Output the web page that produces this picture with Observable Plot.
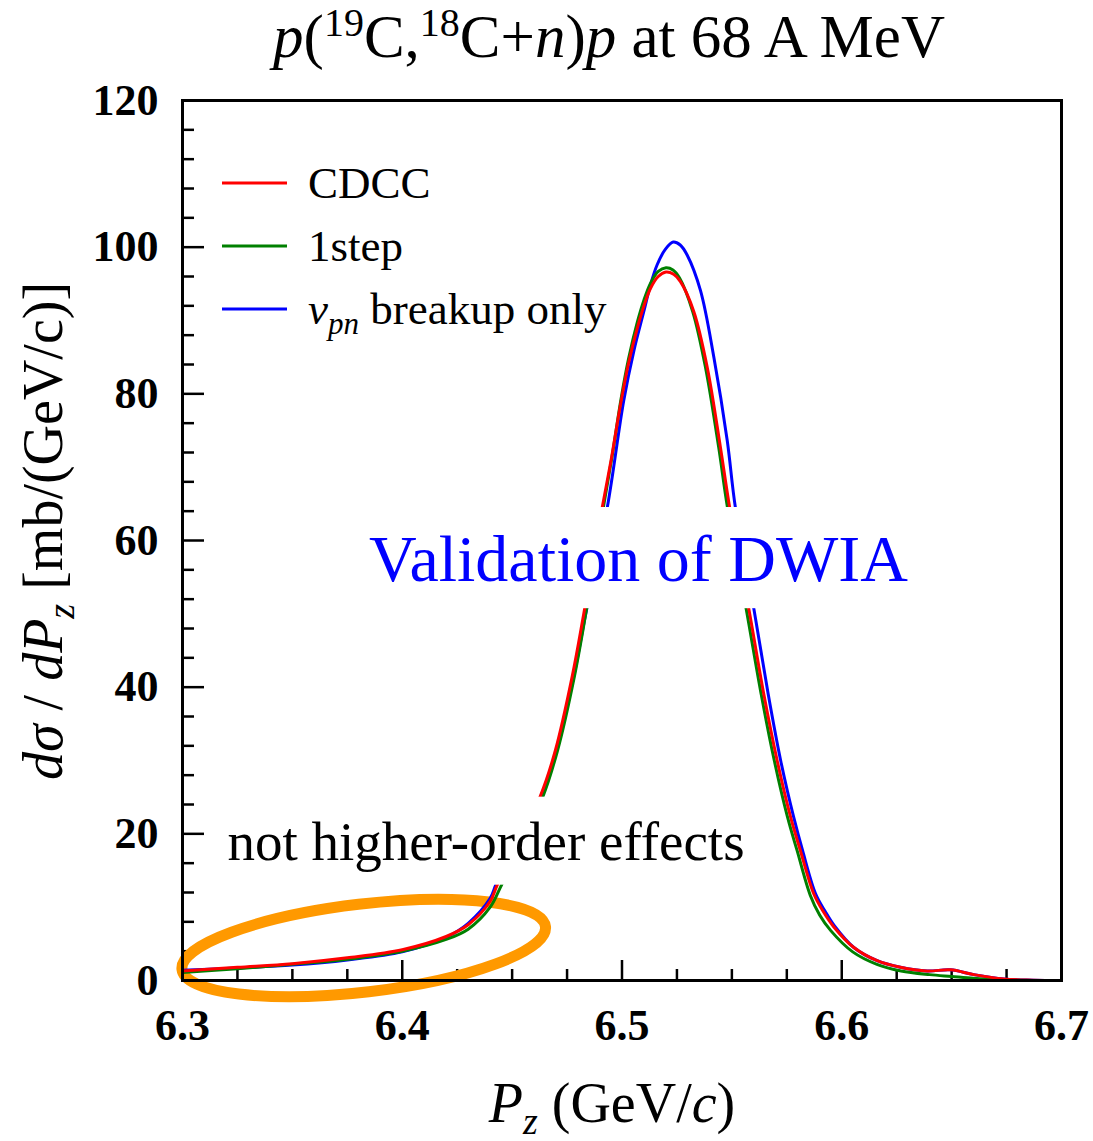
<!DOCTYPE html>
<html><head><meta charset="utf-8">
<script src="https://cdn.jsdelivr.net/npm/d3@7"></script>
<script src="https://cdn.jsdelivr.net/npm/@observablehq/plot@0.6"></script>
<style>body{margin:0;background:#fff} svg{display:block}</style>
</head><body><div id="chart"></div>
<script>
// ---------- data ----------
const seriesNames = ["CDCC", "1step", "vpn breakup only"];
const seriesColors = ["#ff0000", "#008000", "#0000ff"];

const pzCDCC = [6.300,6.325,6.350,6.375,6.400,6.420,6.430,6.440,6.4432,6.453,6.4629,6.4697,6.4773,6.4826,6.491,6.495,6.4993,6.503,6.507,6.510,6.513,6.5165,6.520,6.5235,6.5266,6.5327,6.5388,6.5448,6.549,6.5577,6.5645,6.5706,6.5767,6.5812,6.5873,6.5918,6.5964,6.6055,6.6161,6.6267,6.6389,6.6495,6.6601,6.6737,6.6873,6.700];
const dsCDCC = [1.3,1.8,2.3,3.1,4.2,6.0,7.6,10.8,13.0,19.0,25.2,31.4,41.4,50.0,64.5,70.9,78.5,84.2,89.0,92.0,94.4,96.0,96.6,96.3,95.3,91.2,83.6,72.7,64.5,50.7,39.1,30.0,22.3,17.7,11.8,9.3,7.3,4.5,2.7,1.8,1.3,1.45,0.8,0.2,0.05,0.0];

const pz1step = [6.300,6.325,6.350,6.375,6.400,6.420,6.430,6.440,6.4445,6.454,6.4639,6.4707,6.4783,6.4835,6.4915,6.4955,6.4995,6.503,6.507,6.510,6.513,6.5165,6.520,6.5232,6.5262,6.5322,6.538,6.544,6.548,6.5565,6.5633,6.5693,6.5753,6.5797,6.5857,6.590,6.595,6.605,6.616,6.627,6.640,6.650,6.660,6.675,6.690,6.700];
const ds1step = [1.1,1.6,2.2,2.9,4.0,5.6,7.0,10.0,12.6,18.8,25.0,31.4,41.4,50.0,64.5,71.5,79.2,84.8,89.8,92.8,95.1,96.7,97.2,96.9,95.8,91.2,83.6,72.7,64.5,50.7,39.1,30.0,22.3,17.7,11.6,8.9,6.8,3.9,2.2,1.3,0.8,0.55,0.3,0.05,0.0,0.0];

const pzVpn = [6.300,6.325,6.350,6.375,6.400,6.420,6.430,6.440,6.4428,6.453,6.4632,6.4702,6.478,6.4835,6.4933,6.5008,6.5055,6.5099,6.5130,6.5160,6.5197,6.5233,6.5265,6.5297,6.5357,6.5418,6.5479,6.5516,6.5600,6.5665,6.5722,6.5781,6.5822,6.588,6.5925,6.5968,6.6055,6.6161,6.6267,6.6389,6.6495,6.6601,6.6737,6.6873,6.700];
const dsVpn = [1.4,1.7,2.1,2.8,3.9,5.9,7.8,11.2,13.2,19.2,25.2,31.4,41.4,50.0,64.5,79.1,86.0,91.2,94.9,97.6,99.7,100.7,100.3,98.9,94.1,85.0,73.6,64.5,50.7,39.1,30.0,22.3,17.7,11.9,9.4,7.4,4.5,2.7,1.8,1.3,1.45,0.8,0.2,0.05,0.0];

const xTicks = [6.3, 6.4, 6.5, 6.6, 6.7];
const xMinorTicks = [6.325,6.35,6.375,6.425,6.45,6.475,6.525,6.55,6.575,6.625,6.65,6.675];
const yTicks = [0, 20, 40, 60, 80, 100, 120];
const yMinorTicks = [4,8,12,16,24,28,32,36,44,48,52,56,64,68,72,76,84,88,92,96,104,108,112,116];

// annotations (data coordinates)
const noteTexts = ["Validation of DWIA", "not higher-order effects"];
const noteX = [6.5075, 6.4381];
const noteY = [57.4, 18.8];
const boxX1 = [6.381, 6.3164], boxX2 = [6.6336, 6.5608];
const boxY1 = [50.7, 13.0], boxY2 = [64.5, 25.0];
const ellipseCenter = [6.3827, 4.36];

// ---------- build ----------
const mk = (xs, ys, s) => xs.map((x, i) => ({pz: x, v: ys[i], series: s}));
const dataCDCC = mk(pzCDCC, dsCDCC, seriesNames[0]);
const data1step = mk(pz1step, ds1step, seriesNames[1]);
const dataVpn = mk(pzVpn, dsVpn, seriesNames[2]);
const notes = noteTexts.map((t, i) => ({t, x: noteX[i], y: noteY[i]}));
const boxes = boxX1.map((d, i) => ({x1: boxX1[i], x2: boxX2[i], y1: boxY1[i], y2: boxY2[i]}));

const W = 1093, H = 1141, mL = 182, mR = 32, mT = 100, mB = 161;
const fw = W - mL - mR, fh = H - mT - mB;
const serif = "'Liberation Serif', 'Times New Roman', serif";
const color = {domain: seriesNames, range: seriesColors};

function ellipseMark(index, scales) {
  const cx = scales.x(ellipseCenter[0]), cy = scales.y(ellipseCenter[1]);
  return d3.create("svg:ellipse")
    .attr("cx", cx).attr("cy", cy).attr("rx", 183).attr("ry", 44)
    .attr("transform", `rotate(-6.7 ${cx} ${cy})`)
    .attr("fill", "none").attr("stroke", "#ff9900").attr("stroke-width", 11).node();
}

function textsMark() {
  const g = d3.create("svg:g").attr("font-family", serif).attr("fill", "black").attr("text-anchor", "start");
  // title
  const t = g.append("text").attr("x", 609).attr("y", 57).attr("text-anchor", "middle").attr("font-size", 61);
  t.append("tspan").attr("font-style", "italic").text("p");
  t.append("tspan").text("(");
  t.append("tspan").attr("font-size", 40).attr("dy", -21).text("19");
  t.append("tspan").attr("dy", 21).text("C,");
  t.append("tspan").attr("font-size", 40).attr("dy", -21).text("18");
  t.append("tspan").attr("dy", 21).text("C+");
  t.append("tspan").attr("font-style", "italic").text("n");
  t.append("tspan").text(")");
  t.append("tspan").attr("font-style", "italic").text("p");
  t.append("tspan").text(" at 68 A MeV");
  // y label
  const yl = g.append("text").attr("transform", "translate(62,531) rotate(-90)").attr("text-anchor", "middle").attr("font-size", 56);
  yl.append("tspan").attr("font-style", "italic").text("dσ");
  yl.append("tspan").text(" / ");
  yl.append("tspan").attr("font-style", "italic").text("dP");
  yl.append("tspan").attr("font-style", "italic").attr("font-size", 38).attr("dy", 12).text("z");
  yl.append("tspan").attr("dy", -12).text(" [mb/(GeV/c)]");
  // x label
  const xl = g.append("text").attr("x", 612).attr("y", 1122).attr("text-anchor", "middle").attr("font-size", 56);
  xl.append("tspan").attr("font-style", "italic").text("P");
  xl.append("tspan").attr("font-style", "italic").attr("font-size", 38).attr("dy", 12).text("z");
  xl.append("tspan").attr("dy", -12).text(" (GeV/");
  xl.append("tspan").attr("font-style", "italic").text("c");
  xl.append("tspan").text(")");
  // legend
  seriesNames.forEach((name, i) => {
    const y = 183 + 63 * i;
    g.append("line").attr("x1", 222).attr("x2", 287).attr("y1", y).attr("y2", y)
      .attr("stroke", seriesColors[i]).attr("stroke-width", 3);
    const lt = g.append("text").attr("x", 308).attr("y", y + 15).attr("font-size", 45).attr("text-anchor", "start");
    if (i === 2) {
      lt.append("tspan").attr("font-style", "italic").text("v");
      lt.append("tspan").attr("font-style", "italic").attr("font-size", 31).attr("dy", 10).text("pn");
      lt.append("tspan").attr("dy", -10).text(" breakup only");
    } else {
      lt.text(name);
    }
  });
  return g.node();
}

const plot = Plot.plot({
  width: W, height: H,
  marginLeft: mL, marginRight: mR, marginTop: mT, marginBottom: mB,
  x: {domain: [6.3, 6.7]},
  y: {domain: [0, 120]},
  color,
  style: {fontFamily: serif, background: "white"},
  marks: [
    Plot.tickX(xTicks, {x: d => d, insetTop: fh - 20, stroke: "black", strokeWidth: 2.5}),
    Plot.tickX(xMinorTicks, {x: d => d, insetTop: fh - 11, stroke: "black", strokeWidth: 2.5}),
    Plot.tickY(yTicks, {y: d => d, insetRight: fw - 22, stroke: "black", strokeWidth: 2.5}),
    Plot.tickY(yMinorTicks, {y: d => d, insetRight: fw - 12, stroke: "black", strokeWidth: 2.5}),
    Plot.axisX(xTicks, {tickSize: 0, tickPadding: 28, tickFormat: d => d.toFixed(1), fontSize: 44, fontWeight: "bold", fontFamily: serif, label: null}),
    Plot.axisY(yTicks, {tickSize: 0, tickPadding: 24, fontSize: 44, fontWeight: "bold", fontFamily: serif, label: null}),
    ellipseMark,
    Plot.line(dataVpn, {x: "pz", y: "v", stroke: "series", curve: "catmull-rom", strokeWidth: 3}),
    Plot.line(data1step, {x: "pz", y: "v", stroke: "series", curve: "catmull-rom", strokeWidth: 3}),
    Plot.line(dataCDCC, {x: "pz", y: "v", stroke: "series", curve: "catmull-rom", strokeWidth: 3}),
    Plot.frame({stroke: "black", strokeWidth: 3}),
    Plot.rect(boxes, {x1: "x1", x2: "x2", y1: "y1", y2: "y2", fill: "white"}),
    Plot.text(notes.slice(0, 1), {x: "x", y: "y", text: "t", fontSize: 66, fill: "#0000ff", fontFamily: serif}),
    Plot.text(notes.slice(1), {x: "x", y: "y", text: "t", fontSize: 55, fill: "black", fontFamily: serif}),
    textsMark
  ]
});
document.getElementById("chart").append(plot);
</script>
</body></html>
